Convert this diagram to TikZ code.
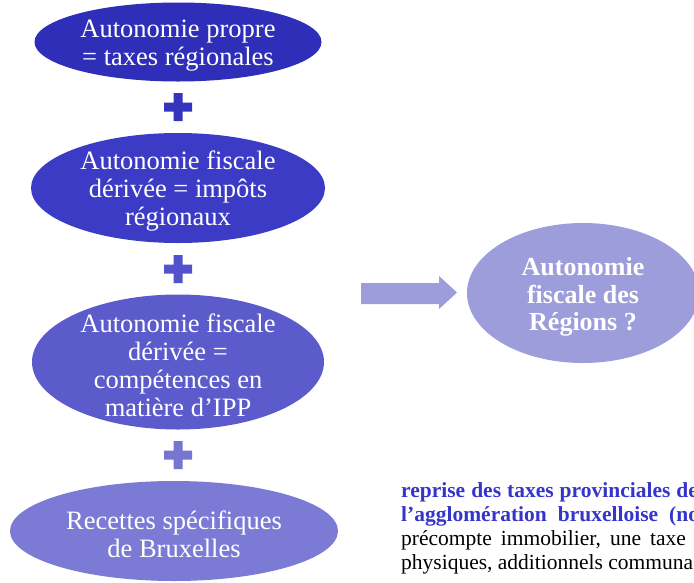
\documentclass[tikz,border=0pt]{standalone}
\usepackage{fontspec}
\setmainfont{Liberation Serif}
\usetikzlibrary{shapes.geometric}
\definecolor{cA}{HTML}{2E2EB8}
\definecolor{cB}{HTML}{3B3BC6}
\definecolor{cC}{HTML}{5B5BCC}
\definecolor{cD}{HTML}{7B7BD6}
\definecolor{cE}{HTML}{9D9DDC}
\definecolor{pA}{HTML}{3434BC}
\definecolor{pB}{HTML}{5252CC}
\definecolor{pC}{HTML}{7676D0}
\definecolor{blueTxt}{HTML}{3535CC}
\begin{document}
\begin{tikzpicture}[x=1pt,y=-1pt,
  oval/.style={ellipse, draw=none, inner sep=0pt},
  ovaltext/.style={text=white, align=center, inner sep=0pt,
    font=\fontsize{26.5}{28}\selectfont},
  ovalbold/.style={text=white, align=center, inner sep=0pt,
    font=\fontsize{26}{27.5}\selectfont\bfseries},
  bluetext/.style={anchor=base west, inner sep=0pt, text=blueTxt,
    font=\fontsize{21.5}{24}\selectfont\bfseries},
  blacktext/.style={anchor=base west, inner sep=0pt, text=black,
    font=\fontsize{21.5}{24}\selectfont},
  pics/plussign/.style={code={
    \fill[#1] (-14,-4.5) rectangle (14,4.5) (-4.5,-14) rectangle (4.5,14);}}
]
\useasboundingbox (0,0) rectangle (694,582);
\fill[white] (0,0) rectangle (694,582);

% left column
\node[oval, fill=cA, minimum width=287pt, minimum height=79pt] (e1) at (178,42) {};
\node[ovaltext] (t1) at ([yshift=-3.5pt]e1.center) {Autonomie propre\\= taxes régionales};

\pic at (178,107) {plussign=pA};

\node[oval, fill=cB, minimum width=294pt, minimum height=110pt] (e2) at (178,188) {};
\node[ovaltext] (t2) at ([yshift=-3pt]e2.center) {Autonomie fiscale\\dérivée = impôts\\régionaux};

\pic at (178,269) {plussign=pB};

\node[oval, fill=cC, minimum width=292pt, minimum height=135pt] (e3) at (178,362) {};
\node[ovaltext] (t3) at ([yshift=-3pt]e3.center) {Autonomie fiscale\\dérivée =\\compétences en\\matière d’IPP};

\pic at (178,455) {plussign=pC};

\node[oval, fill=cD, minimum width=328pt, minimum height=100pt] (e4) at (174,531) {};
\node[ovaltext] (t4) at ([yshift=-3.5pt]e4.center) {Recettes spécifiques\\de Bruxelles};

% block arrow
\fill[cE] (361,283) -- (439,283) -- (439,276) -- (457,292.5) -- (439,309) -- (439,304) -- (361,304) -- cycle;

% right ellipse
\node[oval, fill=cE, minimum width=232pt, minimum height=140pt] (e5) at (583,293) {};
\node[ovalbold] (t5) at ([yshift=-4pt]e5.center) {Autonomie\\fiscale des\\Régions ?};

% bottom right text (cut by the page edge, as in the reference)
\node[bluetext] (l1) at (401,497) {reprise\hspace{6pt}des\hspace{6pt}taxes\hspace{6pt}provinciales\hspace{6pt}de};
\node[bluetext] (l2) at (401,521) {l’agglomération\hspace{11pt}bruxelloise\hspace{11pt}(no};
\node[blacktext] (l3) at (401,545) {précompte\hspace{9pt}immobilier,\hspace{9pt}une\hspace{9pt}taxe};
\node[blacktext] (l4) at (401,569) {physiques, additionnels communa};
\end{tikzpicture}
\end{document}
